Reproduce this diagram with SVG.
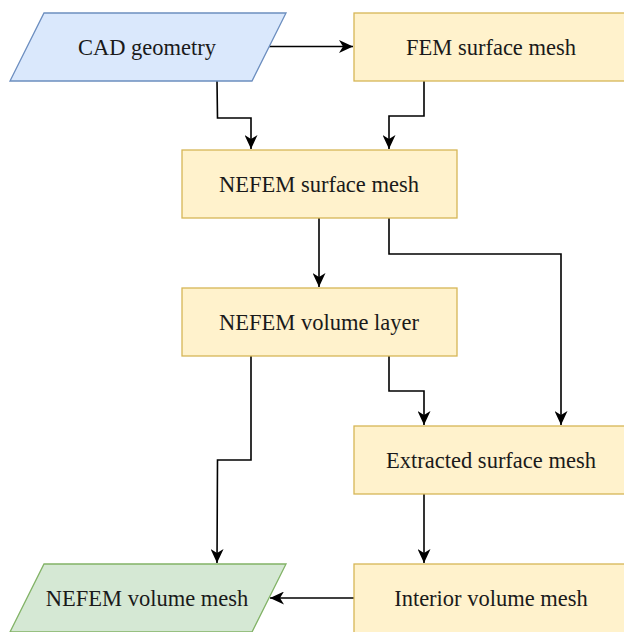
<svg xmlns="http://www.w3.org/2000/svg" width="624" height="632" viewBox="0 0 624 632">
<style>
.box{fill:#fff2cc;stroke:#d6b656;stroke-width:1.3}
.blue{fill:#dae8fc;stroke:#6c8ebf;stroke-width:1.3}
.green{fill:#d5e8d4;stroke:#82b366;stroke-width:1.3}
.c{fill:none;stroke:#000;stroke-width:1.6}
</style>
<defs>
<marker id="a" markerUnits="userSpaceOnUse" markerWidth="15" markerHeight="13" viewBox="0 0 15 13" refX="14" refY="6.5" orient="auto">
<path d="M0,0 L14,6.5 L0,13 L4,6.5 Z" fill="#000"/>
</marker>
</defs>
<rect width="624" height="632" fill="#fff"/>
<g id="connectors">
<path class="c" d="M269,46.5 H353" marker-end="url(#a)"/>
<path class="c" d="M217,81 L217.5,118 H251 V149" marker-end="url(#a)"/>
<path class="c" d="M424,81 V116 H389 V149" marker-end="url(#a)"/>
<path class="c" d="M319,218 V287" marker-end="url(#a)"/>
<path class="c" d="M389,218 V254 H561 V425" marker-end="url(#a)"/>
<path class="c" d="M251,356 V460 H217.5 L217,563" marker-end="url(#a)"/>
<path class="c" d="M389,356 V391 H424 V425" marker-end="url(#a)"/>
<path class="c" d="M424,494 V563" marker-end="url(#a)"/>
<path class="c" d="M354,598 H270" marker-end="url(#a)"/>
</g>
<g font-family="'Liberation Serif', 'DejaVu Serif', serif" font-size="22.5" fill="#1a1a1a" text-anchor="middle">
<g id="cad">
<polygon class="blue" points="44,13 286,13 252,81 10,81"/>
<text x="147" y="54.5">CAD geometry</text>
</g>
<g id="fem">
<rect class="box" x="354" y="13" width="276" height="68"/>
<text x="491" y="54.5">FEM surface mesh</text>
</g>
<g id="nefem-surface">
<rect class="box" x="182" y="150" width="275" height="68"/>
<text x="319" y="192">NEFEM surface mesh</text>
</g>
<g id="nefem-layer">
<rect class="box" x="182" y="288" width="275" height="68"/>
<text x="319" y="330">NEFEM volume layer</text>
</g>
<g id="extracted">
<rect class="box" x="354" y="426" width="276" height="68"/>
<text x="491" y="468">Extracted surface mesh</text>
</g>
<g id="interior">
<rect class="box" x="354" y="564" width="276" height="70"/>
<text x="491" y="605.5">Interior volume mesh</text>
</g>
<g id="nefem-mesh">
<polygon class="green" points="44,564 286,564 252,632 10,632"/>
<text x="147" y="605.5">NEFEM volume mesh</text>
</g>
</g>
</svg>
